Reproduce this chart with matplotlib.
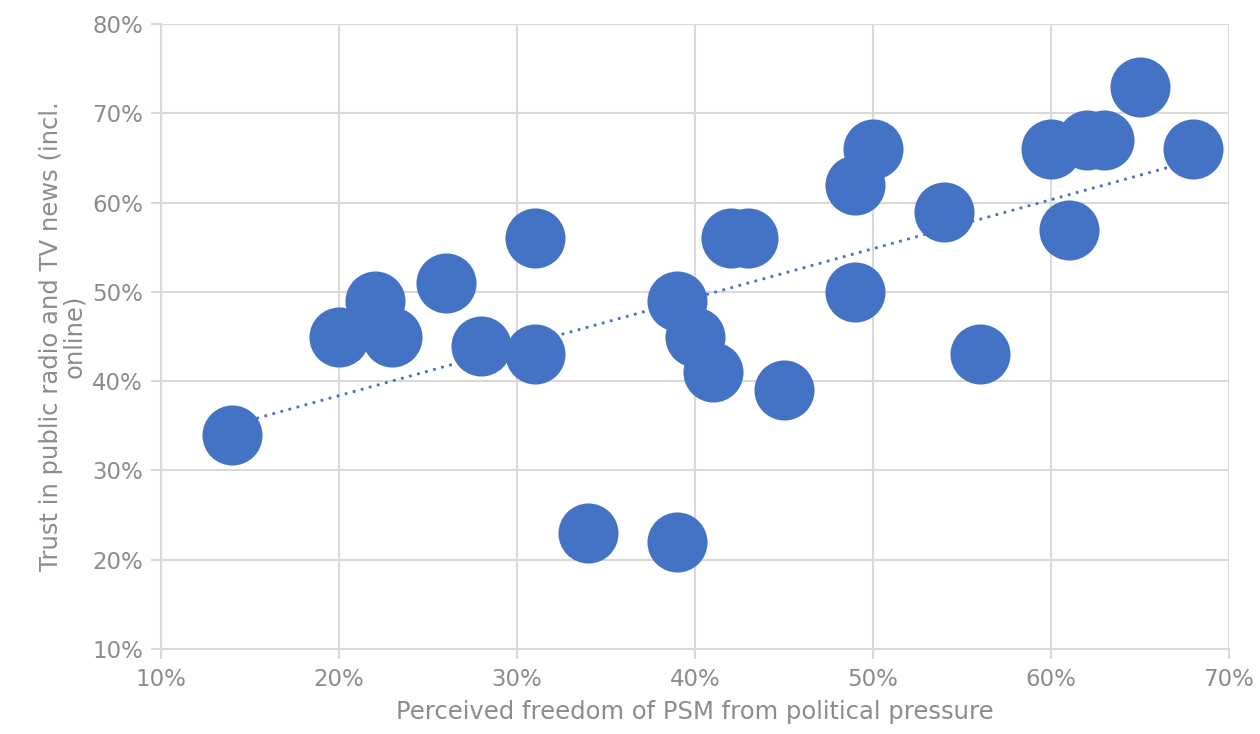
import numpy as np
import matplotlib
matplotlib.use('Agg')
import matplotlib.pyplot as plt
from matplotlib.ticker import PercentFormatter

# perceived freedom of PSM (x) vs trust in public radio/TV news (y), in %
freedom = [14, 20, 22, 23, 26, 28, 31, 31, 34, 39, 39, 40, 41, 42, 43, 45,
           49, 49, 50, 54, 56, 60, 61, 62, 63, 65, 68]
trust = [34, 45, 49, 45, 51, 44, 56, 43, 23, 22, 49, 45, 41, 56, 56, 39,
         50, 62, 66, 59, 43, 66, 57, 67, 67, 73, 66]

x_ticks = [10, 20, 30, 40, 50, 60, 70]
y_ticks = [10, 20, 30, 40, 50, 60, 70, 80]

plt.rcParams['font.family'] = ['DejaVu Sans']

blue = '#4472C4'
grey_txt = '#8c8c8c'
grid_col = '#d9d9d9'

fig = plt.figure(figsize=(12.6, 7.34), dpi=100)
ax = fig.add_axes([0.1278, 0.1158, 0.8476, 0.8512])

ax.scatter(freedom, trust, s=1870, color=blue, linewidths=0, zorder=3)

# linear trend line
k, d = np.polyfit(freedom, trust, 1)
xs = np.array([min(freedom), max(freedom)])
ax.plot(xs, k * xs + d, color=blue, linestyle=(0, (1, 2)), linewidth=2, zorder=2)

ax.set_xlim(10, 70)
ax.set_ylim(10, 80)
ax.set_xticks(x_ticks)
ax.set_yticks(y_ticks)
ax.xaxis.set_major_formatter(PercentFormatter(decimals=0))
ax.yaxis.set_major_formatter(PercentFormatter(decimals=0))

ax.grid(True, color=grid_col, linewidth=1.5, zorder=0)
ax.set_axisbelow(True)
for s in ['top', 'right']:
    ax.spines[s].set_visible(False)
for s in ['left', 'bottom']:
    ax.spines[s].set_color(grid_col)
    ax.spines[s].set_linewidth(1.5)

ax.tick_params(axis='both', colors=grid_col, labelcolor=grey_txt, labelsize=16.5,
               length=7, width=1.5)
ax.tick_params(axis='x', pad=7)
ax.tick_params(axis='y', pad=6)

ax.set_xlabel('Perceived freedom of PSM from political pressure',
              fontsize=17.5, color=grey_txt, labelpad=6)
ax.set_ylabel('Trust in public radio and TV news (incl.\nonline)',
              fontsize=17.5, color=grey_txt, labelpad=4, linespacing=1.0)

fig.savefig('out.png', dpi=100, facecolor='white')
